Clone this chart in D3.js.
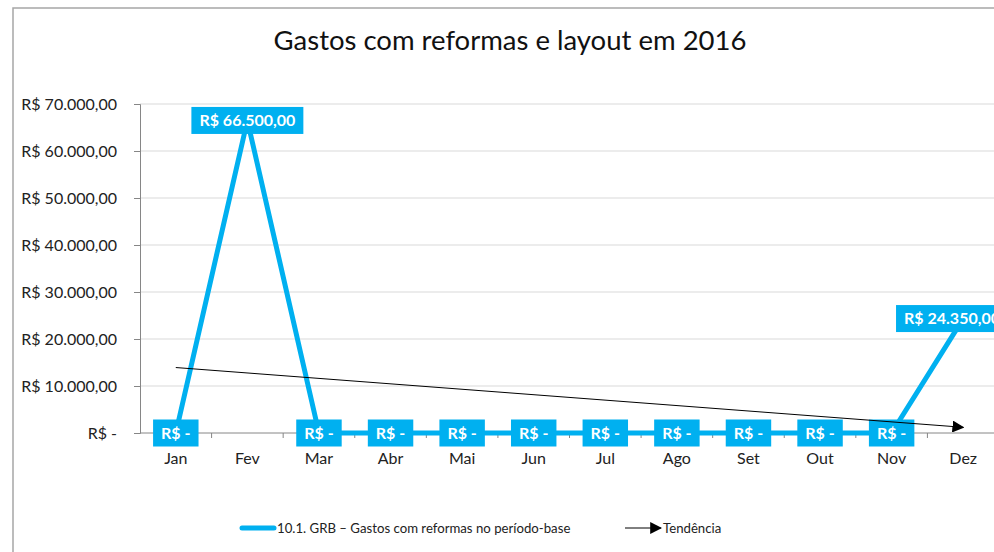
<!DOCTYPE html>
<html>
<head>
<meta charset="utf-8">
<script src="https://cdn.jsdelivr.net/npm/d3@7"></script>
<style>
  html, body { margin: 0; padding: 0; background: #fff; overflow: hidden; }
  svg text { font-family: Lato, "Open Sans", sans-serif; }
</style>
</head>
<body>
<div id="chart"></div>
<script>
// Data
const months = ['Jan', 'Fev', 'Mar', 'Abr', 'Mai', 'Jun', 'Jul', 'Ago', 'Set', 'Out', 'Nov', 'Dez'];
const gastos = [0, 66500, 0, 0, 0, 0, 0, 0, 0, 0, 0, 24350];
const yTicks = [0, 10000, 20000, 30000, 40000, 50000, 60000, 70000];
const title = 'Gastos com reformas e layout em 2016';
const seriesName = '10.1. GRB – Gastos com reformas no período-base';
const trendName = 'Tendência';

const width = 994, height = 552;
const blue = '#00B0F0';
const frameRight = 1012;

const svg = d3.select('#chart').append('svg')
    .attr('width', width)
    .attr('height', height);

// chart frame (runs off the right / bottom edge)
svg.append('rect')
    .attr('x', 13).attr('y', 8)
    .attr('width', frameRight - 13).attr('height', 560)
    .attr('fill', '#fff')
    .attr('stroke', '#a6a6a6')
    .attr('stroke-width', 1.5);

// Scales
const x = d3.scaleBand().domain(months).range([140, 999]);
const y = d3.scaleLinear().domain([0, 70000]).range([433, 104]);
const cx = d => x(d) + x.bandwidth() / 2;

// Title
svg.append('text')
    .attr('x', 510).attr('y', 50)
    .attr('text-anchor', 'middle')
    .attr('font-size', 27.5)
    .attr('fill', '#111')
    .text(title);

// Gridlines
svg.append('g')
    .selectAll('line')
    .data(yTicks.filter(t => t > 0))
    .enter().append('line')
    .attr('x1', 140).attr('x2', 999)
    .attr('y1', d => y(d)).attr('y2', d => y(d))
    .attr('stroke', '#d9d9d9')
    .attr('stroke-width', 1);

// Format like Excel accounting
const fmtBR = v => {
    if (v === 0) return 'R$ -';
    const s = d3.format(',.2f')(v).replace(/,/g, '#').replace('.', ',').replace(/#/g, '.');
    return 'R$ ' + s;
};

// Y axis
const yAxis = svg.append('g')
    .attr('transform', 'translate(140,0)')
    .call(d3.axisLeft(y).tickValues(yTicks).tickSize(6).tickFormat(fmtBR));
yAxis.select('.domain').attr('stroke', '#868686');
yAxis.selectAll('.tick line').attr('stroke', '#868686');
yAxis.selectAll('.tick text')
    .attr('x', -23)
    .attr('font-size', 16)
    .attr('font-family', 'Lato, sans-serif')
    .attr('fill', '#222');

// X axis (ticks between categories)
const xAxisG = svg.append('g').attr('transform', 'translate(0,433)');
xAxisG.append('line')
    .attr('x1', 140).attr('x2', 999)
    .attr('stroke', '#868686');
xAxisG.selectAll('line.tk')
    .data(months)
    .enter().append('line')
    .attr('class', 'tk')
    .attr('x1', d => x(d) + x.bandwidth()).attr('x2', d => x(d) + x.bandwidth())
    .attr('y1', 0).attr('y2', 5)
    .attr('stroke', '#868686');
xAxisG.selectAll('text')
    .data(months)
    .enter().append('text')
    .attr('x', d => cx(d))
    .attr('y', 31)
    .attr('text-anchor', 'middle')
    .attr('font-size', 16)
    .attr('fill', '#222')
    .text(d => d);

// Series line
const pts = months.map((m, i) => ({ m, v: gastos[i] }));
svg.append('path')
    .datum(pts)
    .attr('fill', 'none')
    .attr('stroke', blue)
    .attr('stroke-width', 5)
    .attr('stroke-linejoin', 'round')
    .attr('d', d3.line().x(d => cx(d.m)).y(d => y(d.v)));

// Data labels (kept inside the chart frame like Excel does)
const labels = svg.append('g')
    .selectAll('g')
    .data(pts)
    .enter().append('g')
    .attr('transform', d => `translate(${cx(d.m)},${y(d.v)})`);
labels.append('text')
    .attr('class', 'lbl')
    .attr('text-anchor', 'middle')
    .attr('dy', '0.36em')
    .attr('font-size', 16)
    .attr('font-weight', 'bold')
    .attr('fill', '#fff')
    .text(d => fmtBR(d.v));
labels.each(function(d) {
    const g = d3.select(this);
    const bb = g.select('text').node().getBBox();
    const w = bb.width + 16;
    const right = cx(d.m) + bb.x - 8 + w;
    const shift = Math.min(0, frameRight - 4 - right);
    g.attr('transform', `translate(${cx(d.m) + shift},${y(d.v)})`);
    g.insert('rect', 'text')
        .attr('x', bb.x - 8)
        .attr('y', -13.5)
        .attr('width', w)
        .attr('height', 27)
        .attr('fill', blue);
});

// Trend line (least squares)
const xs = months.map((m, i) => i + 1);
const mx = d3.mean(xs), my = d3.mean(gastos);
const slope = d3.sum(xs, (v, i) => (v - mx) * (gastos[i] - my)) / d3.sum(xs, v => (v - mx) ** 2);
const trendAt = i => my + slope * (i + 1 - mx);

const defs = svg.append('defs');
defs.append('marker')
    .attr('id', 'arrow')
    .attr('viewBox', '0 0 10 10')
    .attr('refX', 9).attr('refY', 5)
    .attr('markerWidth', 12).attr('markerHeight', 12)
    .attr('markerUnits', 'userSpaceOnUse')
    .attr('orient', 'auto')
    .append('path')
    .attr('d', 'M0,0 L10,5 L0,10 Z')
    .attr('fill', '#000');

svg.append('line')
    .attr('x1', cx(months[0])).attr('y1', y(trendAt(0)))
    .attr('x2', cx(months[11])).attr('y2', y(trendAt(11)))
    .attr('stroke', '#000')
    .attr('stroke-width', 1)
    .attr('marker-end', 'url(#arrow)');

// Legend
const leg = svg.append('g').attr('transform', 'translate(0,528)');
leg.append('line')
    .attr('x1', 242).attr('x2', 274)
    .attr('stroke', blue).attr('stroke-width', 5)
    .attr('stroke-linecap', 'round');
leg.append('text')
    .attr('x', 277).attr('y', 0).attr('dy', '0.35em')
    .attr('font-size', 13.2)
    .attr('fill', '#222')
    .text(seriesName);
leg.append('line')
    .attr('x1', 625).attr('x2', 661)
    .attr('stroke', '#000').attr('stroke-width', 1)
    .attr('marker-end', 'url(#arrow)');
leg.append('text')
    .attr('x', 663).attr('y', 0).attr('dy', '0.35em')
    .attr('font-size', 13.2)
    .attr('fill', '#222')
    .text(trendName);
</script>
</body>
</html>
